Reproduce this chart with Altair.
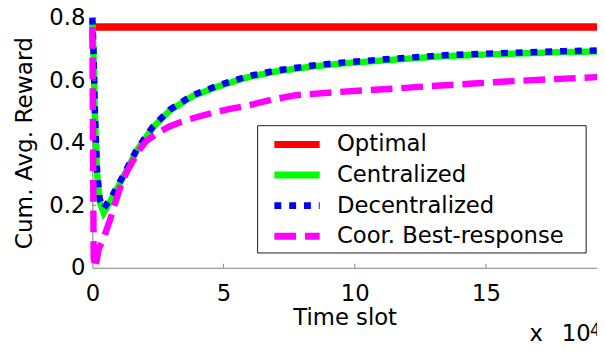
import altair as alt
import pandas as pd

FONT = "DejaVu Sans"

# ---- data (time in units of 10^4 slots) ----
series_names = ["Optimal", "Centralized", "Decentralized", "Coor. Best-response"]
series_colors = ["#ff0000", "#00ff00", "#0000ff", "#ff00ff"]
series_dashes = [[1, 0], [1, 0], [7, 8], [22, 9]]

opt_t = [0, 19.3]
opt_r = [0.77, 0.77]

cen_t = [0, 0.04, 0.1, 0.18, 0.28, 0.43, 0.7, 1.18, 1.69, 2.31, 2.94, 3.82, 4.82,
         5.9, 7.0, 8.4, 9.6, 10.9, 12.2, 13.4, 15.0, 16.5, 18.0, 19.3]
cen_r = [0.79, 0.70, 0.48, 0.30, 0.21, 0.176, 0.215, 0.291, 0.375, 0.449, 0.502, 0.549, 0.581,
         0.609, 0.628, 0.644, 0.654, 0.662, 0.670, 0.677, 0.682, 0.686, 0.690, 0.692]

dec_t = [0, 0.04, 0.1, 0.18, 0.28, 0.43, 0.7, 1.18, 1.69, 2.31, 2.94, 3.82, 4.82,
         5.9, 7.0, 8.4, 9.6, 10.9, 12.2, 13.4, 15.0, 16.5, 18.0, 19.3]
dec_r = [0.80, 0.71, 0.49, 0.31, 0.22, 0.19, 0.222, 0.295, 0.378, 0.452, 0.505, 0.552, 0.584,
         0.612, 0.631, 0.647, 0.657, 0.665, 0.673, 0.680, 0.685, 0.689, 0.693, 0.695]

cbr_t = [0, 0.05, 0.12, 0.24, 0.45, 0.68, 0.9, 1.11, 1.33, 1.56, 1.8, 2.05, 2.5, 2.94, 3.3,
         3.69, 4.2, 4.69, 5.25, 5.82, 6.8, 7.76, 9.0, 10.27, 11.5, 12.9, 14.66, 16.0, 17.5, 19.3]
cbr_r = [0.77, 0.03, 0.0, 0.06, 0.10, 0.155, 0.215, 0.27, 0.31, 0.344, 0.378, 0.405, 0.432,
         0.452, 0.464, 0.475, 0.487, 0.498, 0.508, 0.517, 0.537, 0.552, 0.560, 0.567, 0.573,
         0.581, 0.590, 0.597, 0.603, 0.610]

x_ticks = [0, 5, 10, 15]
y_ticks = [0, 0.2, 0.4, 0.6, 0.8]

W, H = 511.5, 253.5

x_scale = alt.Scale(domain=[0, 19.23], nice=False, zero=False)
y_scale = alt.Scale(domain=[0, 0.8], nice=False)
color_scale = alt.Scale(domain=series_names, range=series_colors)
dash_scale = alt.Scale(domain=series_names, range=series_dashes)

x_axis = alt.Axis(values=x_ticks, title="Time slot", grid=False, tickSize=0,
                  labelFontSize=23, labelFont=FONT, labelColor="black",
                  labelBaseline="alphabetic", labelPadding=32.7, labelFlush=False,
                  labelOverlap=False, domainColor="#808080", domainWidth=1,
                  titleFontSize=23, titleFont=FONT, titleFontWeight="normal",
                  titleColor="black", titleY=58, titleBaseline="alphabetic")
y_axis = alt.Axis(values=y_ticks, format=".1~f", title="Cum. Avg. Reward", grid=False,
                  tickSize=0, labelFontSize=23, labelFont=FONT, labelColor="black",
                  labelPadding=7.5, labelOverlap=False, labelFlush=False,
                  domainColor="#808080", domainWidth=1,
                  titleFontSize=23.5, titleFont=FONT, titleFontWeight="normal",
                  titleColor="black", titleAngle=270, titleX=-61.8, titleY=126.75,
                  titleBaseline="alphabetic", titleAlign="center")

legend = alt.Legend(title=None, orient="none", legendX=181.5, legendY=116,
                    symbolType="M-2.55,0H2.55", symbolSize=324, symbolStrokeWidth=7,
                    labelFontSize=23, labelFont=FONT, labelColor="black",
                    labelOffset=28, rowPadding=2, padding=0, symbolOffset=13.45,
                    labelLimit=400)


def line_layer(name, ts, rs, width):
    df = pd.DataFrame({"t": ts, "r": rs, "series": name, "i": list(range(len(ts)))})
    return alt.Chart(df).mark_line(strokeWidth=width, strokeCap="butt").encode(
        x=alt.X("t:Q", scale=x_scale, axis=x_axis),
        y=alt.Y("r:Q", scale=y_scale, axis=y_axis),
        color=alt.Color("series:N", scale=color_scale, legend=legend),
        strokeDash=alt.StrokeDash("series:N", scale=dash_scale, legend=legend),
        order=alt.Order("i:Q"),
    )


lines = [
    line_layer(series_names[0], opt_t, opt_r, 7.5),
    line_layer(series_names[1], cen_t, cen_r, 6.5),
    line_layer(series_names[2], dec_t, dec_r, 6.5),
    line_layer(series_names[3], cbr_t, cbr_r, 6.5),
]

xt = alt.Chart(pd.DataFrame({"t": x_ticks[1:]})).mark_rule(color="#808080", strokeWidth=1).encode(
    x=alt.X("t:Q", scale=x_scale), y=alt.value(H), y2=alt.value(H - 4))
yt = alt.Chart(pd.DataFrame({"r": y_ticks[1:]})).mark_rule(color="#808080", strokeWidth=1).encode(
    y=alt.Y("r:Q", scale=y_scale), x=alt.value(0), x2=alt.value(4))

one = pd.DataFrame({"a": [0]})
box = alt.Chart(one).mark_rect(fill="white", stroke="#1a1a1a", strokeWidth=1).encode(
    x=alt.value(167.5), x2=alt.value(500.5), y=alt.value(109.5), y2=alt.value(238.5))
exp_x = alt.Chart(one).mark_text(text="x", fontSize=23, font=FONT, color="black",
                                 align="left", baseline="alphabetic").encode(
    x=alt.value(443), y=alt.value(327.8))
exp_base = alt.Chart(one).mark_text(text="10", fontSize=23, font=FONT, color="black",
                                    align="right", baseline="alphabetic").encode(
    x=alt.value(505), y=alt.value(327.8))
exp_pow = alt.Chart(one).mark_text(text="4", fontSize=17, font=FONT, color="black",
                                   align="left", baseline="alphabetic").encode(
    x=alt.value(504.5), y=alt.value(323))

chart = alt.layer(*lines, xt, yt, box, exp_x, exp_base, exp_pow).properties(
    width=W, height=H,
    autosize=alt.AutoSizeParams(type="none"),
    padding={"left": 85.5, "top": 7.5, "right": 0, "bottom": 76},
).configure_view(stroke=None)

chart.save("out.html", embed_options={"renderer": "svg", "actions": False})
